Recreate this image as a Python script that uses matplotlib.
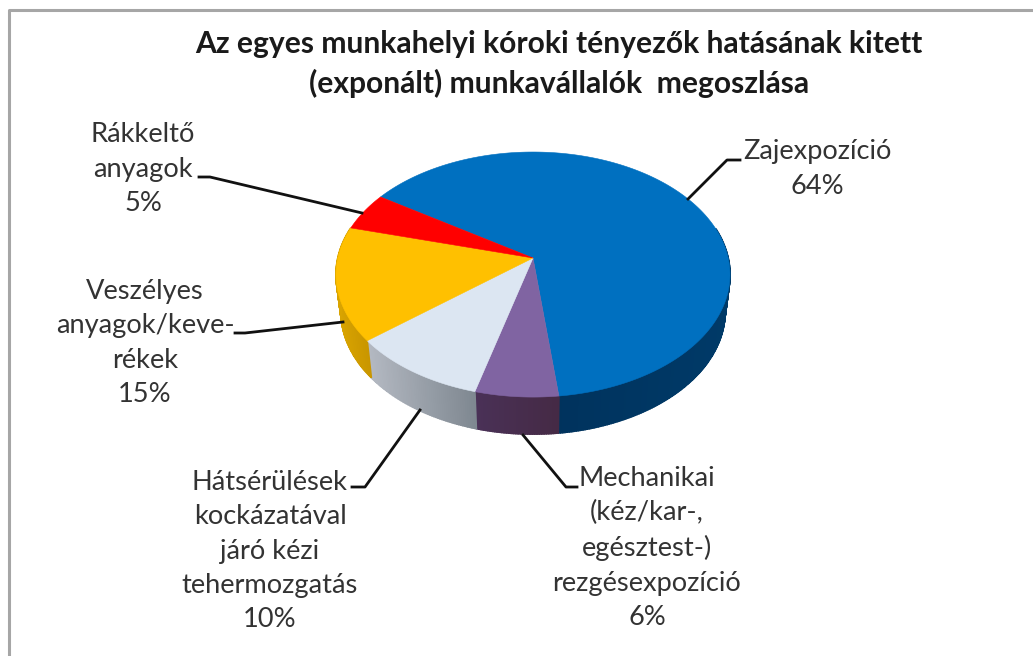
import numpy as np
import matplotlib
matplotlib.use("Agg")
import matplotlib.pyplot as plt
from matplotlib.colors import to_rgb

plt.rcParams['font.family'] = ['Lato', 'DejaVu Sans']

# ---------------- DATA ----------------
title = "Az egyes munkahelyi kóroki tényezők hatásának kitett\n(exponált) munkavállalók  megoszlása"
labels = ["Zajexpozíció", "Mechanikai\n(kéz/kar-,\negésztest-)\nrezgésexpozíció",
          "Hátsérülések\nkockázatával\njáró kézi\ntehermozgatás",
          "Veszélyes\nanyagok/keve-\nrékek", "Rákkeltő\nanyagok"]
values = [64, 6, 10, 15, 5]
top_colors = ["#0070C0", "#8064A2", "#DCE6F2", "#FFC000", "#FF0000"]
wall_left = ["#002B52", "#4A3157", "#B4B9C2", "#D9A400", "#B00000"]
wall_right = ["#003A68", "#452A45", "#7F8891", "#C99600", "#B00000"]

# ---------------- GEOMETRIA ----------------
start_angle = 147
cx, cy = 533, 258
ax_x, ax_y = 195.2, 120.3
persp = 0.135
depth = 37
bottom_shrink = 0.975


def project(theta):
    # cerchio unitario -> ellisse con prospettiva (apice non al centro)
    t = np.radians(theta)
    x, y = np.cos(t), np.sin(t)
    w = 1 + persp * y
    return cx + ax_x * x / w, cy - ax_y * y / w


fig = plt.figure(figsize=(10.33, 6.56), dpi=100)
ax = fig.add_axes([0, 0, 1, 1])
ax.set_xlim(0, 1033)
ax.set_ylim(656, 0)
ax.axis("off")

# cornice (a destra e in basso e' tagliata)
ax.plot([9, 9, 1033], [656, 10, 10], color="#A6A6A6", lw=2.2, zorder=1)

edges = start_angle - np.cumsum([0] + values) * 360 / sum(values)

# pareti laterali
for i in range(len(values)):
    thetas = np.linspace(edges[i], edges[i + 1], max(int(values[i] * 6), 8))
    xs, ys = project(thetas)
    xb = cx + (xs - cx) * bottom_shrink
    x_min, x_max = xs.min(), xs.max()
    for j in range(len(thetas) - 1):
        if np.sin(np.radians(thetas[j])) > 0.25 and np.sin(np.radians(thetas[j + 1])) > 0.25:
            continue
        f = (xs[j] - x_min) / max(x_max - x_min, 1)
        col = (1 - f) * np.array(to_rgb(wall_left[i])) + f * np.array(to_rgb(wall_right[i]))
        ax.fill([xs[j], xs[j + 1], xb[j + 1], xb[j]],
                [ys[j], ys[j + 1], ys[j + 1] + depth, ys[j] + depth],
                color=col, lw=1.2, zorder=2)

# faccia superiore
for i in range(len(values)):
    thetas = np.linspace(edges[i], edges[i + 1], 200)
    xs, ys = project(thetas)
    ax.fill(np.r_[cx, xs], np.r_[cy, ys], color=top_colors[i], lw=0.4, zorder=3)

# ---------------- TESTI ----------------
text_color = "#333333"
ax.text(559, 64, title, ha="center", va="center", fontsize=21.6, fontweight="bold",
        color="#1A1A1A", linespacing=1.42, zorder=5)


def label(x, y, i):
    ax.text(x, y, f"{labels[i]}\n{values[i]}%", ha="center", va="center", fontsize=19.6,
            color=text_color, linespacing=1.47, zorder=5)


label(817, 169, 0)
label(647, 548, 1)
label(270, 551, 2)
label(145, 343, 3)
label(143, 169, 4)

# linee guida
leader_x = [[688, 727, 740], [523, 566, 577], [420, 365, 352], [343, 245, 235], [362, 210, 199]]
leader_y = [[199, 160, 160], [435, 487, 487], [410, 487, 487], [322, 333, 333], [213, 177, 177]]
for lx, ly in zip(leader_x, leader_y):
    ax.plot(lx, ly, color="#111111", lw=2.0, zorder=4)

fig.savefig("out.png", dpi=100)
